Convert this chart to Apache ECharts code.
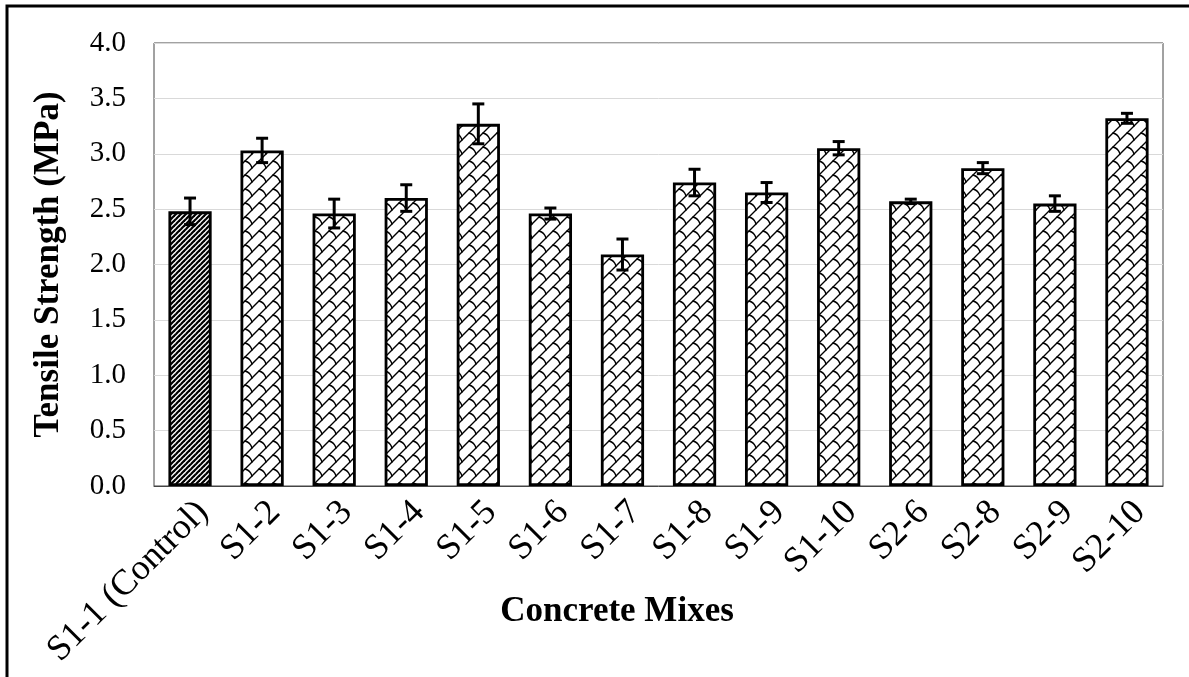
<!DOCTYPE html>
<html>
<head>
<meta charset="utf-8">
<script src="https://cdn.jsdelivr.net/npm/echarts@6/dist/echarts.min.js"></script>
<style>html,body{margin:0;padding:0;background:#fff;}#c{width:1189px;height:677px;}</style>
</head>
<body>
<div id="c"></div>
<script>
const categories = ['S1-1 (Control)','S1-2','S1-3','S1-4','S1-5','S1-6','S1-7','S1-8','S1-9','S1-10','S2-6','S2-8','S2-9','S2-10'];
const strength = [2.48, 3.03, 2.46, 2.60, 3.27, 2.46, 2.09, 2.74, 2.65, 3.05, 2.57, 2.87, 2.55, 3.32];
const errors   = [0.12, 0.11, 0.13, 0.12, 0.18, 0.05, 0.14, 0.12, 0.09, 0.06, 0.02, 0.05, 0.07, 0.045];
const yTicks = ['0.0','0.5','1.0','1.5','2.0','2.5','3.0','3.5','4.0'];

const FONT = '"Liberation Serif","Times New Roman",serif';

function diagPattern() {
  const s = 5, c = document.createElement('canvas');
  c.width = s; c.height = s;
  const g = c.getContext('2d');
  g.fillStyle = '#fff'; g.fillRect(0,0,s,s);
  g.strokeStyle = '#000'; g.lineWidth = 2.2;
  for (const o of [-s, 0, s]) {
    g.beginPath(); g.moveTo(o - 1, s + 1); g.lineTo(o + s + 1, -1); g.stroke();
  }
  return c;
}
function shinglePattern() {
  const s = 14, c = document.createElement('canvas');
  c.width = s; c.height = s;
  const g = c.getContext('2d');
  g.fillStyle = '#fff'; g.fillRect(0,0,s,s);
  g.strokeStyle = '#000'; g.lineWidth = 1.4; g.lineCap = 'round';
  for (const o of [-s, 0, s]) {
    g.beginPath(); g.moveTo(o - 1, s + 1); g.lineTo(o + s + 1, -1); g.stroke();
  }
  for (const dx of [-s, 0, s]) for (const dy of [-s, 0, s]) {
    g.beginPath();
    g.moveTo(7 + dx, 7 + dy);
    g.quadraticCurveTo(12.5 + dx, 8.5 + dy, 14 + dx, 14 + dy);
    g.stroke();
  }
  return c;
}
const pDiag = diagPattern(), pShingle = shinglePattern();

const barData = strength.map((v, i) => ({
  value: v,
  itemStyle: { color: { image: i === 0 ? pDiag : pShingle, repeat: 'repeat' } }
}));
const errData = strength.map((v, i) => [i, v - errors[i], v + errors[i]]);

const chart = echarts.init(document.getElementById('c'));
chart.setOption({
  animation: false,
  backgroundColor: '#fff',
  grid: { left: 154, right: 26, top: 43, bottom: 191, show: true, borderColor: '#444', borderWidth: 1 },
  xAxis: {
    type: 'category', data: categories,
    axisLine: { lineStyle: { color: '#444', width: 1 } },
    axisTick: { show: false },
    axisLabel: { interval: 0, rotate: 45, verticalAlign: 'top', color: '#000', fontFamily: FONT, fontSize: 36, margin: 8 }
  },
  yAxis: {
    type: 'value', min: 0, max: 4, interval: 0.5,
    name: 'Tensile Strength (MPa)', nameLocation: 'middle', nameGap: 88, nameRotate: 90,
    nameTextStyle: { color: '#000', fontFamily: FONT, fontSize: 35, fontWeight: 'bold' },
    axisLine: { show: false }, axisTick: { show: false },
    splitLine: { lineStyle: { color: '#d9d9d9', width: 1 } },
    axisLabel: { color: '#000', fontFamily: FONT, fontSize: 29, margin: 28,
      formatter: v => yTicks[Math.round(v / 0.5)] }
  },
  graphic: [
    { type: 'polyline', shape: { points: [[7, 677], [7, 6], [1189, 6]] }, style: { stroke: '#000', lineWidth: 3, fill: null } },
    { type: 'text', x: 617, y: 612, style: { text: 'Concrete Mixes', fontFamily: FONT, fontSize: 35, fontWeight: 'bold', fill: '#000', align: 'center', verticalAlign: 'middle' } }
  ],
  series: [
    { type: 'bar', data: barData, barCategoryGap: '40%',
      itemStyle: { borderColor: '#000', borderWidth: 2.8 } },
    { type: 'custom', data: errData, z: 10,
      renderItem: (params, api) => {
        const x = api.value(0);
        const lo = api.coord([x, api.value(1)]);
        const hi = api.coord([x, api.value(2)]);
        const hw = 6;
        const st = { stroke: '#000', lineWidth: 3 };
        return { type: 'group', children: [
          { type: 'line', shape: { x1: lo[0], y1: lo[1], x2: hi[0], y2: hi[1] }, style: st },
          { type: 'line', shape: { x1: hi[0] - hw, y1: hi[1], x2: hi[0] + hw, y2: hi[1] }, style: st },
          { type: 'line', shape: { x1: lo[0] - hw, y1: lo[1], x2: lo[0] + hw, y2: lo[1] }, style: st }
        ] };
      }
    }
  ]
});
</script>
</body>
</html>
